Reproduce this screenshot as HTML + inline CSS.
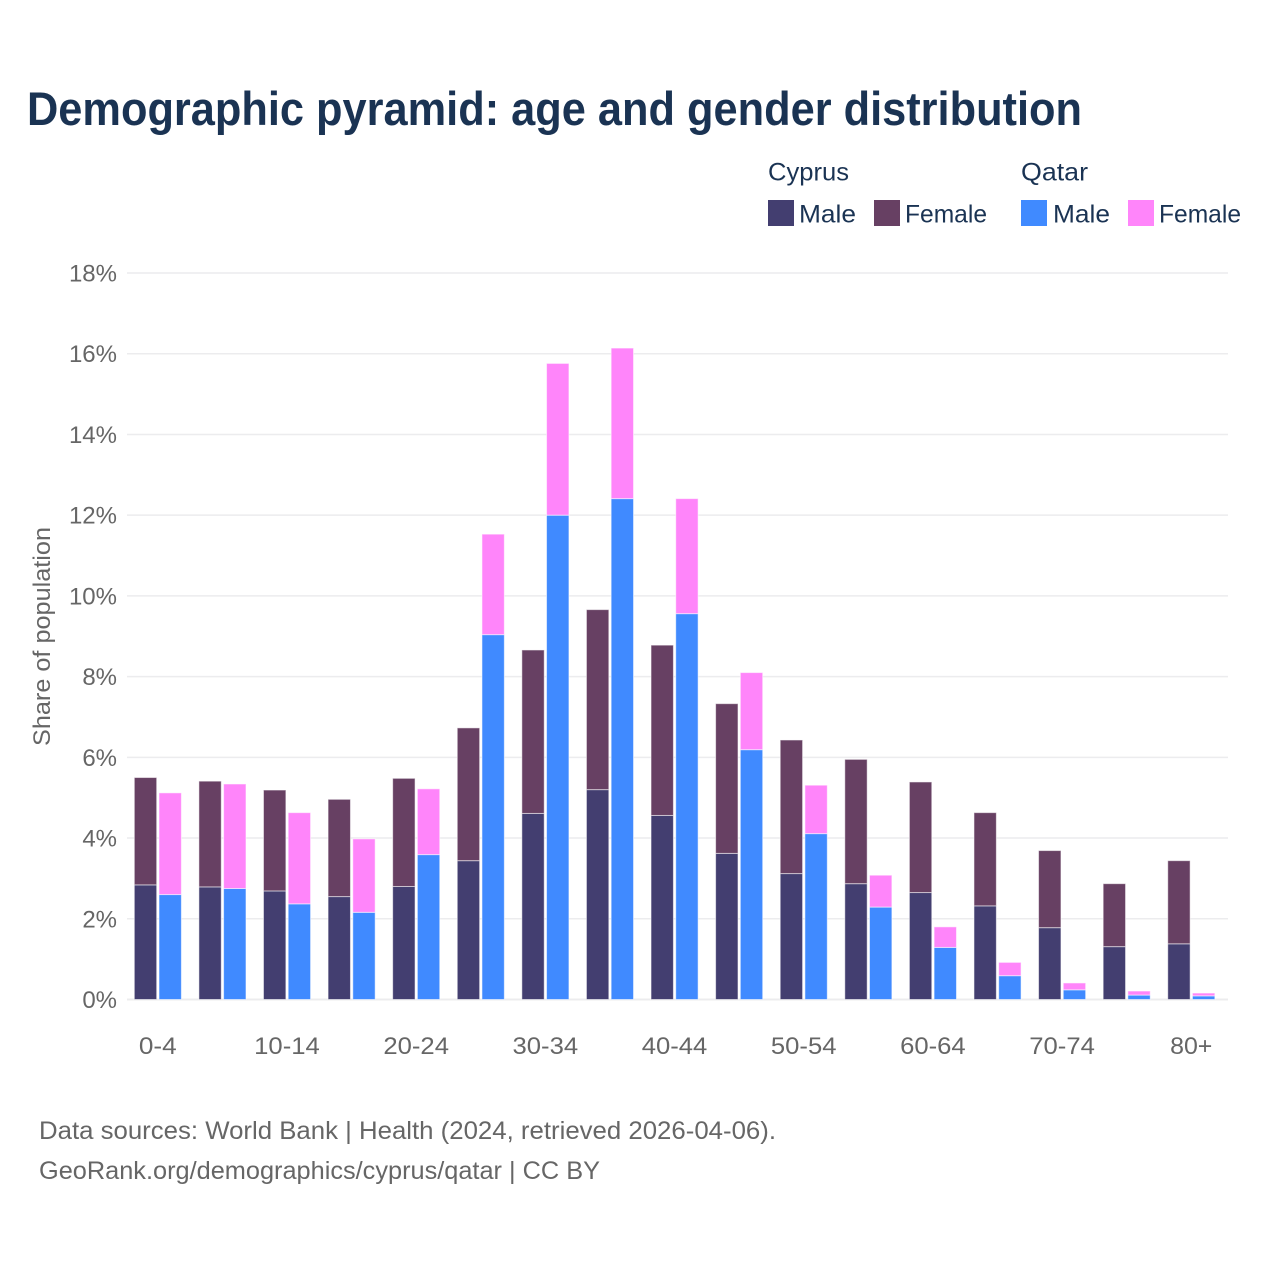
<!DOCTYPE html>
<html lang="en">
<head>
<meta charset="utf-8">
<title>Demographic pyramid: age and gender distribution</title>
<style>
  html, body { margin: 0; padding: 0; background: #fff; }
  svg { display: block; font-family: "Liberation Sans", sans-serif; }
</style>
</head>
<body>
<svg id="chart" xmlns="http://www.w3.org/2000/svg" width="1280" height="1280" viewBox="0 0 1280 1280">
  <rect x="0" y="0" width="1280" height="1280" fill="#ffffff"/>
  <text x="27" y="125" font-size="47" font-weight="700" fill="#1a3353" textLength="1055" lengthAdjust="spacingAndGlyphs">Demographic pyramid: age and gender distribution</text>

  <g font-size="25" fill="#1a3353">
    <text x="768" y="180.5" textLength="81" lengthAdjust="spacingAndGlyphs">Cyprus</text>
    <text x="1021" y="180.5" textLength="67" lengthAdjust="spacingAndGlyphs">Qatar</text>
    <rect x="768" y="200" width="26" height="26" fill="#433e70"/>
    <text x="799" y="222.5" textLength="57" lengthAdjust="spacingAndGlyphs">Male</text>
    <rect x="874" y="200" width="26" height="26" fill="#674063"/>
    <text x="905" y="222.5" textLength="82" lengthAdjust="spacingAndGlyphs">Female</text>
    <rect x="1021" y="200" width="26" height="26" fill="#408aff"/>
    <text x="1053" y="222.5" textLength="57" lengthAdjust="spacingAndGlyphs">Male</text>
    <rect x="1128" y="200" width="26" height="26" fill="#ff85fa"/>
    <text x="1159" y="222.5" textLength="82" lengthAdjust="spacingAndGlyphs">Female</text>
  </g>

  <g id="grid"></g>
  <g id="y-ticks" font-size="24" fill="#666666" text-anchor="end"></g>
  <text transform="translate(50 636.5) rotate(-90)" font-size="24" fill="#666666" text-anchor="middle" textLength="219" lengthAdjust="spacingAndGlyphs">Share of population</text>
  <g id="bars"></g>
  <g id="x-ticks" font-size="24" fill="#666666" text-anchor="middle"></g>

  <text x="39" y="1139" font-size="25" fill="#666666" textLength="737" lengthAdjust="spacingAndGlyphs">Data sources: World Bank | Health (2024, retrieved 2026-04-06).</text>
  <text x="39" y="1179" font-size="25" fill="#666666" textLength="561" lengthAdjust="spacingAndGlyphs">GeoRank.org/demographics/cyprus/qatar | CC BY</text>
</svg>
<script>
const categories = ["0-4","5-9","10-14","15-19","20-24","25-29","30-34","35-39","40-44","45-49","50-54","55-59","60-64","65-69","70-74","75-79","80+"];
const cyprusMale = [2.84,2.79,2.69,2.55,2.80,3.44,4.61,5.20,4.56,3.62,3.12,2.87,2.65,2.32,1.78,1.31,1.38];
const cyprusFemale = [2.66,2.62,2.50,2.41,2.68,3.29,4.05,4.46,4.22,3.71,3.31,3.08,2.74,2.31,1.91,1.56,2.06];
const qatarMale = [2.60,2.75,2.37,2.16,3.59,9.04,12.00,12.41,9.56,6.19,4.11,2.29,1.29,0.59,0.24,0.11,0.09];
const qatarFemale = [2.52,2.59,2.26,1.82,1.63,2.49,3.76,3.73,2.85,1.91,1.20,0.79,0.51,0.33,0.17,0.10,0.07];
const yTickValues = [0,2,4,6,8,10,12,14,16,18];
const xTickLabels = ["0-4","","10-14","","20-24","","30-34","","40-44","","50-54","","60-64","","70-74","","80+"];

const NS = "http://www.w3.org/2000/svg";
const yScale = function (v) { return 999.5 - v * (726.5 / 18); };
const groupX = function (i) { return 134.3 + i * 64.59; };
const BAR_W = 22.4;
const QATAR_OFFSET = 24.7;

const gridLayer = document.getElementById("grid");
const yTickLayer = document.getElementById("y-ticks");
const barLayer = document.getElementById("bars");
const xTickLayer = document.getElementById("x-ticks");

yTickValues.forEach(function (v) {
  const line = document.createElementNS(NS, "line");
  
  
  line.setAttribute("x1", 127);
  line.setAttribute("x2", 1228);
  line.setAttribute("y1", yScale(v));
  line.setAttribute("y2", yScale(v));
  line.setAttribute("stroke", "#ececee");
  line.setAttribute("stroke-width", v === 0 ? 2 : 1.5);
  gridLayer.appendChild(line);

  const label = document.createElementNS(NS, "text");
  
  
  label.setAttribute("x", 117);
  label.setAttribute("y", yScale(v) + 8.5);
  label.textContent = v + "%";
  yTickLayer.appendChild(label);
});

function addBar(name, x, base, value, color) {
  const bar = document.createElementNS(NS, "rect");
  
  
  bar.setAttribute("x", x);
  bar.setAttribute("y", yScale(base + value));
  bar.setAttribute("width", BAR_W);
  bar.setAttribute("height", yScale(base) - yScale(base + value));
  bar.setAttribute("fill", color);
  bar.setAttribute("stroke", "#ffffff");
  bar.setAttribute("stroke-opacity", "0.55");
  bar.setAttribute("stroke-width", "1");
  barLayer.appendChild(bar);
}

categories.forEach(function (cat, i) {
  const x = groupX(i);
  addBar("bar-cyprus-male-" + cat, x, 0, cyprusMale[i], "#433e70");
  addBar("bar-cyprus-female-" + cat, x, cyprusMale[i], cyprusFemale[i], "#674063");
  addBar("bar-qatar-male-" + cat, x + QATAR_OFFSET, 0, qatarMale[i], "#408aff");
  addBar("bar-qatar-female-" + cat, x + QATAR_OFFSET, qatarMale[i], qatarFemale[i], "#ff85fa");
});

xTickLabels.forEach(function (lab, i) {
  if (!lab) return;
  const t = document.createElementNS(NS, "text");
  
  
  t.setAttribute("x", groupX(i) + 23.5);
  t.setAttribute("y", 1054);
  const digits = lab.replace(/[^0-9]/g, "").length;
  const symbolWidth = lab.indexOf("+") >= 0 ? 14.5 : 10;
  t.setAttribute("textLength", digits * 13.9 + (lab.length - digits) * symbolWidth);
  t.setAttribute("lengthAdjust", "spacingAndGlyphs");
  t.textContent = lab;
  xTickLayer.appendChild(t);
});
</script>
</body>
</html>
